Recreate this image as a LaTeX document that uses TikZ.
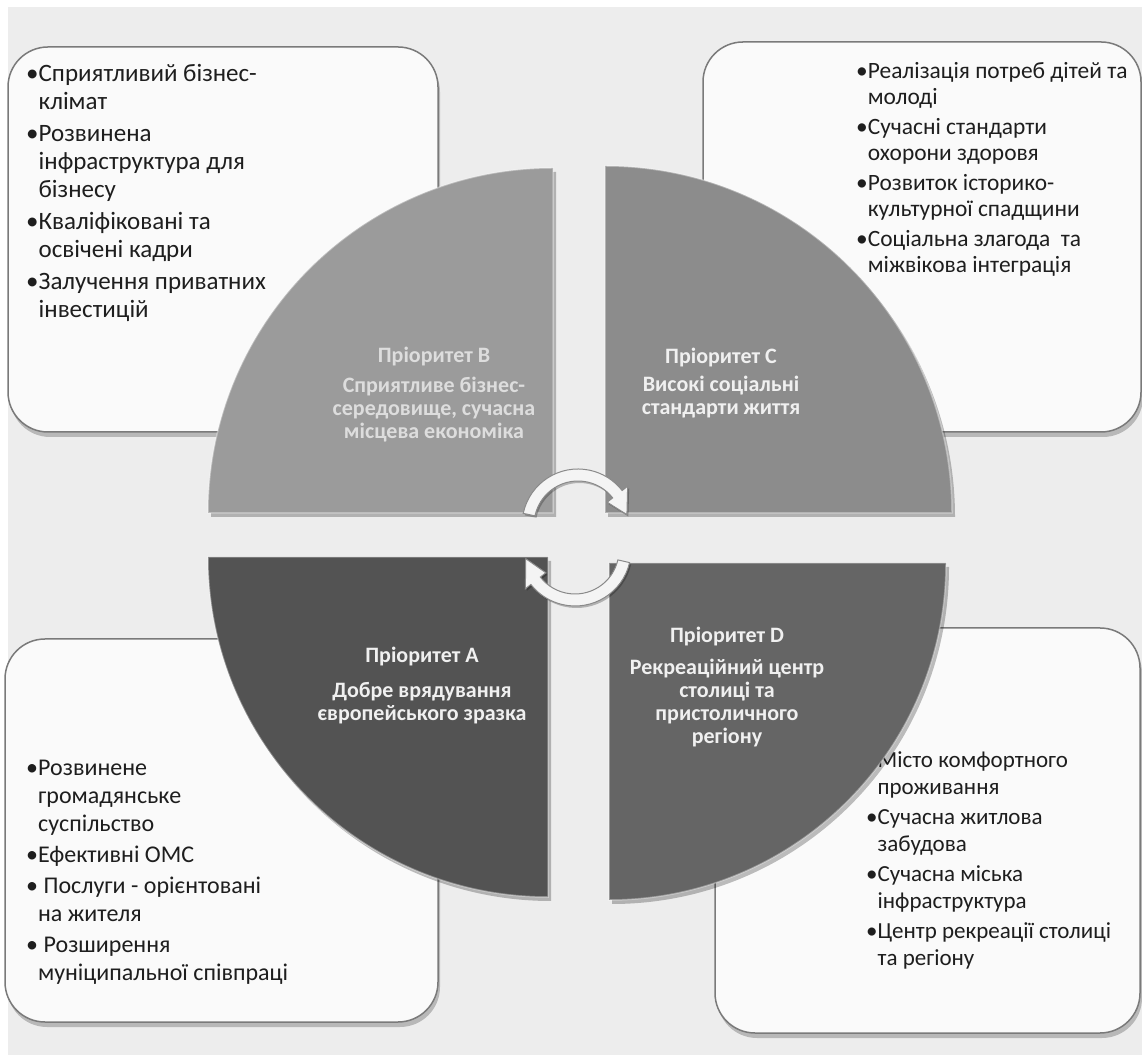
\documentclass[tikz,border=0pt]{standalone}
\usepackage{fontspec}
\setmainfont{Carlito}
\usetikzlibrary{shadows,calc}
\definecolor{bg}{HTML}{EDEDED}
\definecolor{boxfill}{HTML}{FAFAFA}
\definecolor{boxline}{HTML}{7A7A7A}
\definecolor{txt}{HTML}{1E1E1E}
\definecolor{qA}{HTML}{535353}
\definecolor{qB}{HTML}{9B9B9B}
\definecolor{qC}{HTML}{8C8C8C}
\definecolor{qD}{HTML}{656565}
\definecolor{lab}{HTML}{F0F0F0}
\definecolor{arrfill}{HTML}{F4F4F4}
\definecolor{arrline}{HTML}{8A8A8A}
\newcommand{\ind}{\hphantom{•}}
\tikzset{
  infobox/.style={draw=boxline, line width=1.5pt, fill=boxfill, rounded corners=40pt,
    inner sep=0pt, rectangle,
    drop shadow={shadow xshift=2pt, shadow yshift=-5pt, opacity=0.22, fill=black}},
  boxtext/.style={text=txt, align=left, inner sep=0pt, anchor=north west},
  quad/.style={draw=white, draw opacity=0.35, line width=1.5pt,
    drop shadow={shadow xshift=3pt, shadow yshift=-4pt, opacity=0.25, fill=black}},
  quadlabel/.style={text=lab, align=center, inner sep=0pt, anchor=north,
    font=\fontsize{22}{23}\selectfont\bfseries},
  cycarrow/.style={fill=arrfill, draw=arrline, line width=1pt,
    drop shadow={shadow xshift=1.5pt, shadow yshift=-2pt, opacity=0.25, fill=black}}
}
\begin{document}
\begin{tikzpicture}[x=1pt,y=1pt]
\useasboundingbox (0,0) rectangle (1142,1057);
\fill[white] (0,0) rectangle (1142,1057);
\fill[bg] (8,2) rectangle (1142,1050);

% boxes
\node[infobox, minimum width=430pt, minimum height=385pt] (boxTL) at (223,817.5) {};
\node[infobox, minimum width=438pt, minimum height=390pt] (boxTR) at (922,820) {};
\node[infobox, minimum width=433pt, minimum height=383pt] (boxBL) at (221.5,226.5) {};
\node[infobox, minimum width=425pt, minimum height=405pt] (boxBR) at (927.5,226.5) {};

% box texts
\node[boxtext, font=\fontsize{25}{28}\selectfont] (tlText) at (26,992.5)
 {•Сприятливий бізнес-\\ \ind клімат\\[4pt]
  •Розвинена\\ \ind інфраструктура для\\ \ind бізнесу\\[4pt]
  •Кваліфіковані та\\ \ind освічені кадри\\[4pt]
  •Залучення приватних\\ \ind інвестицій};
\node[boxtext, font=\fontsize{23.4}{26}\selectfont] (trText) at (856,994.5)
 {•Реалізація потреб дітей та\\ \ind молоді\\[4pt]
  •Сучасні стандарти\\ \ind охорони здоровя\\[4pt]
  •Розвиток історико-\\ \ind культурної спадщини\\[4pt]
  •Соціальна злагода\ \ та\\ \ind міжвікова інтеграція};
\node[boxtext, font=\fontsize{24}{28}\selectfont] (blText) at (26,297.5)
 {•Розвинене\\ \ind громадянське\\ \ind суспільство\\[3pt]
  •Ефективні ОМС\\[3pt]
  • Послуги - орієнтовані\\ \ind на жителя\\[3pt]
  • Розширення\\ \ind муніципальної співпраці};
\node[boxtext, font=\fontsize{23}{27}\selectfont] (brText) at (866,306)
 {•Місто комфортного\\ \ind проживання\\[3pt]
  •Сучасна житлова\\ \ind забудова\\[3pt]
  •Сучасна міська\\ \ind інфраструктура\\[3pt]
  •Центр рекреації столиці\\ \ind та регіону};

% quadrants
\path[quad, fill=qB] (553,544) -- (208,544) arc[start angle=180, end angle=90, radius=345pt] -- cycle;
\path[quad, fill=qC] (605,544) -- (605,891) arc[start angle=90, end angle=0, radius=347pt] -- cycle;
\path[quad, fill=qA] (548,500) -- (548,160) arc[start angle=270, end angle=180, radius=340pt] -- cycle;
\path[quad, fill=qD] (609,494) -- (946,494) arc[start angle=0, end angle=-90, radius=337pt] -- cycle;

% labels
\node[quadlabel, text=lab!92!black] (labB) at (434,710)
 {Пріоритет B\\[7pt] Сприятливе бізнес-\\ середовище, сучасна\\ місцева економіка};
\node[quadlabel] (labC) at (721,709)
 {Пріоритет C\\[5pt] Високі соціальні\\ стандарти життя};
\node[quadlabel] (labA) at (422,410)
 {Пріоритет A\\[12pt] Добре врядування\\ європейського зразка};
\node[quadlabel] (labD) at (727,430)
 {Пріоритет D\\[9pt] Рекреаційний центр\\ столиці та\\ пристоличного\\ регіону};

% cycle arrows
\coordinate (cU) at (578,532);
\coordinate (cL) at (575,507);
\path[cycarrow] ($(cU)+(168:56pt)$) arc[start angle=168, end angle=38, radius=56pt]
  -- ($(cU)+(38:63pt)$) -- ($(cU)+(12:50pt)$) -- ($(cU)+(38:37pt)$)
  -- ($(cU)+(38:44pt)$) arc[start angle=38, end angle=168, radius=44pt] -- cycle;
\path[cycarrow] ($(cL)+(-13:56pt)$) arc[start angle=-13, end angle=-142, radius=56pt]
  -- ($(cL)+(-142:63pt)$) -- ($(cL)+(-170:50pt)$) -- ($(cL)+(-142:37pt)$)
  -- ($(cL)+(-142:44pt)$) arc[start angle=-142, end angle=-13, radius=44pt] -- cycle;
\end{tikzpicture}
\end{document}
